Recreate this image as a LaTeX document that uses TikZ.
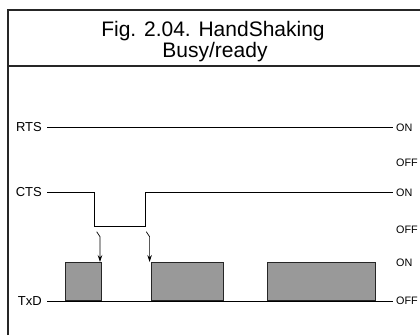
\documentclass[tikz,border=0pt]{standalone}
\usepackage{fontspec}
\setmainfont{Liberation Sans}
\usetikzlibrary{arrows.meta}
\begin{document}
\begin{tikzpicture}[x=1pt,y=-1pt,
  frameline/.style={line width=1.4pt, black!85},
  sepline/.style={line width=2pt, black!85},
  sig/.style={line width=0.9pt},
  siglabel/.style={font=\fontsize{13}{13}\selectfont, inner sep=0pt, anchor=base east},
  statelabel/.style={font=\fontsize{10.8}{10.8}\selectfont, inner sep=0pt, anchor=base west},
  titlelabel/.style={font=\fontsize{21}{21}\selectfont, inner sep=0pt, anchor=base},
  pulse/.style={fill=black!40, draw=black!85, line width=0.9pt},
  cause/.style={line width=0.7pt, -{Stealth[length=7pt,width=4.5pt,inset=2.5pt]}}]
\useasboundingbox (0,0) rectangle (420,335);
\fill[white] (0,0) rectangle (420,335);
% frame
\coordinate (fbl) at (8,335);
\coordinate (ftl) at (8,10);
\coordinate (ftr) at (420,10);
\coordinate (fsl) at (8,65.5);
\coordinate (fsr) at (420,65.5);
\draw[frameline] (fbl) -- (ftl) -- (ftr);
\draw[sepline] (fsl) -- (fsr);
% title
\node[titlelabel] (t1) at (213,36) {Fig. 2.04. HandShaking};
\node[titlelabel] (t2) at (215,57) {Busy/ready};
% labels
\node[siglabel] (rts) at (42,131.6) {RTS};
\node[siglabel] (cts) at (42,196.6) {CTS};
\node[siglabel] (txd) at (42,305.6) {TxD};
\node[statelabel] (on1) at (396,131) {ON};
\node[statelabel] (off1) at (396,166.8) {OFF};
\node[statelabel] (on2) at (396,196) {ON};
\node[statelabel] (off2) at (396,233.8) {OFF};
\node[statelabel] (on3) at (396,266.8) {ON};
\node[statelabel] (off3) at (396,304.8) {OFF};
% pulses
\node[pulse, inner sep=0pt, minimum width=36pt, minimum height=38pt, anchor=south west] (p1) at (65,301) {};
\node[pulse, inner sep=0pt, minimum width=72pt, minimum height=38pt, anchor=south west] (p2) at (151,301) {};
\node[pulse, inner sep=0pt, minimum width=108pt, minimum height=38pt, anchor=south west] (p3) at (267,301) {};
% signal lines
\coordinate (rs) at (47,127.5);
\coordinate (re) at (393,127.5);
\draw[sig] (rs) -- (re);
\coordinate (cs) at (47,192);
\coordinate (c1) at (94.5,192);
\coordinate (c2) at (94.5,226);
\coordinate (c3) at (145,226);
\coordinate (c4) at (145,192);
\coordinate (ce) at (393,192);
\draw[sig] (cs) -- (c1) -- (c2) -- (c3) -- (c4) -- (ce);
\coordinate (ts) at (47,301);
\coordinate (te) at (393,301);
\draw[sig] (ts) -- (te);
% cause arrows
\coordinate (a1s) at (96.7,231.7);
\coordinate (a1m) at (100,236.7);
\coordinate (a1e) at (100,262);
\coordinate (a2s) at (146.3,231.7);
\coordinate (a2m) at (149.6,236.7);
\coordinate (a2e) at (149.6,262);
\draw[cause] (a1s) -- (a1m) -- (a1e);
\draw[cause] (a2s) -- (a2m) -- (a2e);
\end{tikzpicture}
\end{document}
